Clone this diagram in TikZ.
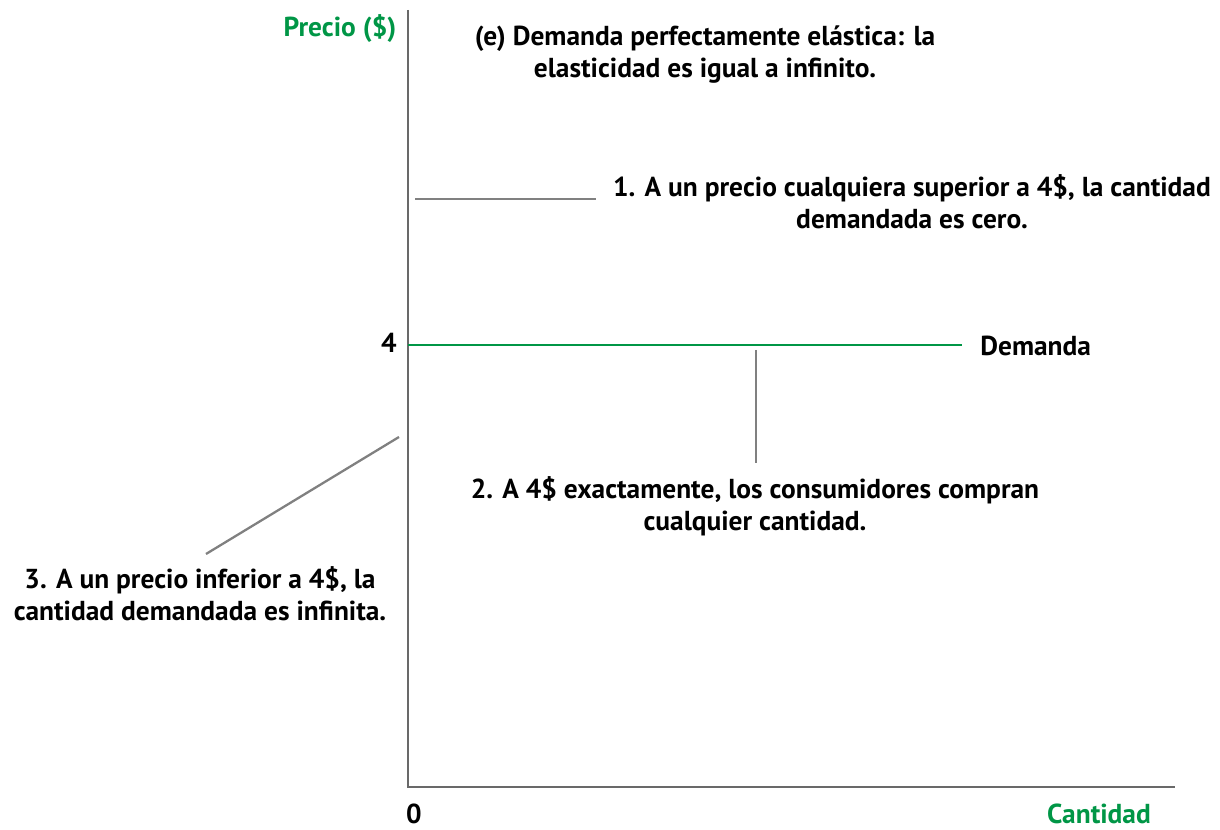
\documentclass[tikz,border=0pt]{standalone}
\usepackage{fontspec}
\setmainfont{PT Sans}
\usetikzlibrary{positioning}
\definecolor{pgreen}{RGB}{0,150,70}
\definecolor{leadgray}{RGB}{128,128,128}
\definecolor{axisgray}{RGB}{105,105,105}
\begin{document}
\begin{tikzpicture}[x=0.02cm, y=-0.02cm]
    % Styles
        \tikzstyle{txt} = [font=\fontsize{15.6}{18.2}\selectfont\bfseries, align=center, inner sep=0pt]
        \tikzstyle{axlabel} = [txt, text=pgreen]
        \tikzstyle{axis} = [draw=axisgray, line width=0.11em]
        \tikzstyle{leader} = [draw=leadgray, line width=0.13em]
        \tikzstyle{demand} = [draw=pgreen, line width=0.13em]
        \useasboundingbox (0,0) rectangle (1220,830);
    % axes
        \coordinate (origin) at (408,787);
        \coordinate (ytop) at (408,10);
        \coordinate (xend) at (1175,787);
        \path [axis] (ytop) -- (origin) -- (xend);
        \node [axlabel] (precio) at (340,29) {Precio (\$)};
        \node [axlabel] (cantidad) at (1099,814) {Cantidad};
        \node [txt] (zero) at (414,814) {0};
        \node [txt] (four) at (389,343) {4};
    % demand curve
        \coordinate (dstart) at (408,345);
        \node [txt, anchor=west] (demanda) at (980,346) {Demanda};
        \path [demand] (dstart) -- (962,345);
    % title
        \node [txt] (title) at (705,55) {(e) Demanda perfectamente elástica: la\\elasticidad es igual a infinito.};
    % notes
        \node [txt] (note1) at (912,202) {1. A un precio cualquiera superior a 4\$, la cantidad\\demandada es cero.};
        \node [txt] (note2) at (755,506) {2. A 4\$ exactamente, los consumidores compran\\cualquier cantidad.};
        \node [txt] (note3) at (200,594) {3. A un precio inferior a 4\$, la\\cantidad demandada es infinita.};
    % leader lines
        \coordinate (lead1a) at (415,199);
        \coordinate (lead1b) at (596,199);
        \coordinate (lead2a) at (756,350);
        \coordinate (lead2b) at (756,463);
        \coordinate (lead3a) at (399,437);
        \coordinate (lead3b) at (206,554);
        \path [leader] (lead1a) -- (lead1b);
        \path [leader] (lead2a) -- (lead2b);
        \path [leader] (lead3a) -- (lead3b);
\end{tikzpicture}
\end{document}
